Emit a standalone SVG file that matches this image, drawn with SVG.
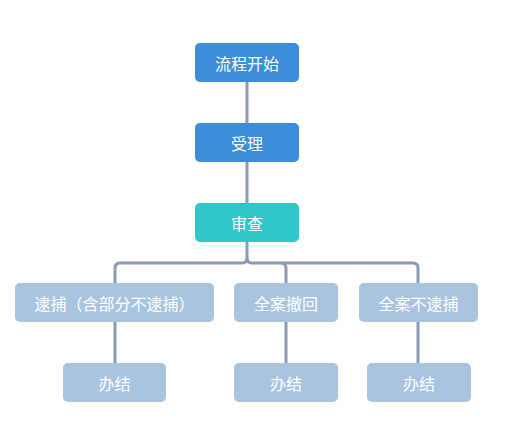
<svg xmlns="http://www.w3.org/2000/svg" width="510" height="428" viewBox="0 0 510 428">
<style>
.n rect{rx:5;ry:5}
.blue{fill:#3b8ed8}
.teal{fill:#2ec7ca}
.light{fill:#a9c4e1}
text{font-family:"Noto Sans CJK SC","Liberation Sans",sans-serif;font-size:16px;fill:#ffffff;text-anchor:middle;dominant-baseline:central}
.c{fill:none;stroke:#8b9bb6;stroke-width:3;stroke-linejoin:round}
</style>
<rect width="510" height="428" fill="#ffffff"/>
<g id="connectors">
<path class="c" d="M247 82V123"/>
<path class="c" d="M247 162V203"/>
<path class="c" d="M247 242V258Q247 263 242 263H120Q115 263 115 268V283"/>
<path class="c" d="M247 258Q247 263 252 263H281Q286 263 286 268V283"/>
<path class="c" d="M281 263H413Q418 263 418 268V283"/>
<path class="c" d="M115 322V363"/>
<path class="c" d="M286 322V363"/>
<path class="c" d="M418 322V363"/>
</g>
<g id="start" class="n"><rect class="blue" x="195" y="43" width="104" height="39"/><text x="247" y="62.5">流程开始</text></g>
<g id="accept" class="n"><rect class="blue" x="195" y="123" width="104" height="39"/><text x="247" y="142.5">受理</text></g>
<g id="review" class="n"><rect class="teal" x="195" y="203" width="104" height="39"/><text x="247" y="222.5">审查</text></g>
<g id="arrest" class="n"><rect class="light" x="15" y="283" width="199" height="39"/><text x="114.5" y="302.5">逮捕（含部分不逮捕）</text></g>
<g id="withdraw" class="n"><rect class="light" x="234" y="283" width="104" height="39"/><text x="286" y="302.5">全案撤回</text></g>
<g id="noarrest" class="n"><rect class="light" x="359" y="283" width="119" height="39"/><text x="418.5" y="302.5">全案不逮捕</text></g>
<g id="end1" class="n"><rect class="light" x="63" y="363" width="103" height="39"/><text x="114.5" y="382.5">办结</text></g>
<g id="end2" class="n"><rect class="light" x="234" y="363" width="104" height="39"/><text x="286" y="382.5">办结</text></g>
<g id="end3" class="n"><rect class="light" x="367" y="363" width="104" height="39"/><text x="419" y="382.5">办结</text></g>
</svg>
